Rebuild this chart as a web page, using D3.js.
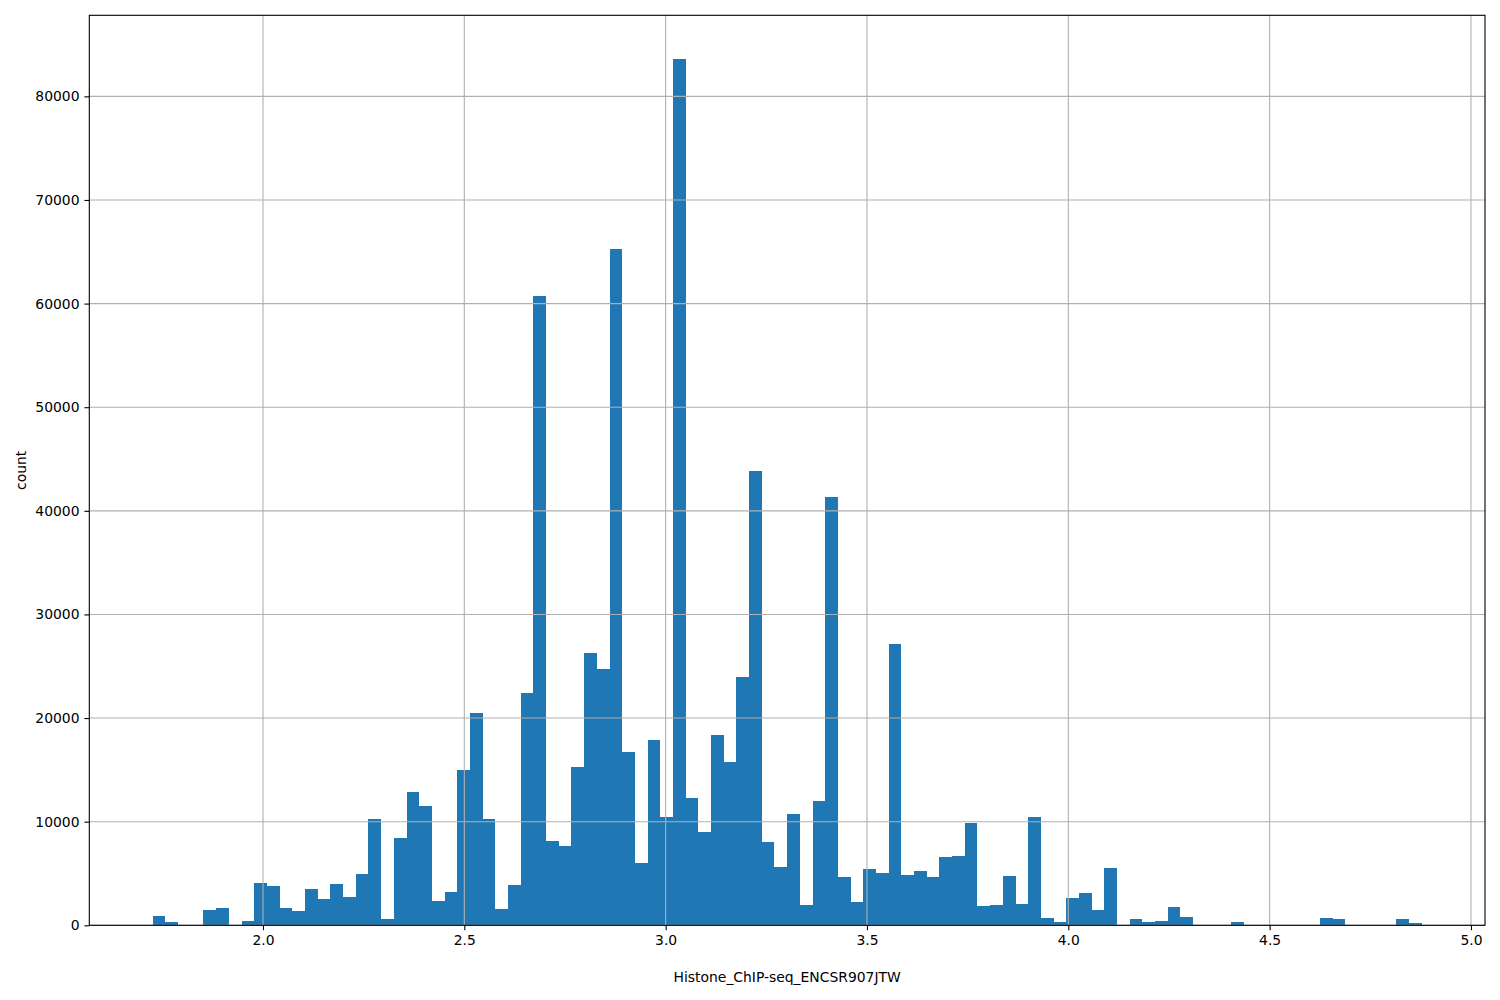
<!DOCTYPE html>
<html>
<head>
<meta charset="utf-8">
<script src="https://cdn.jsdelivr.net/npm/d3@7"></script>
<style>
  html, body { margin: 0; padding: 0; background: #fff; }
  svg { display: block; }
  text { font-family: "DejaVu Sans", sans-serif; }
</style>
</head>
<body>
<script>
// ---- data ----
const binMin = 1.7262;
const binMax = 4.8773;
const counts = [
  900, 330, 0, 0, 1480, 1670, 0, 410, 4080, 3790,
  1670, 1380, 3510, 2540, 3990, 2730, 4950, 10280, 620, 8430,
  12870, 11520, 2350, 3220, 15010, 20500, 10280, 1580, 3890, 22430,
  60740, 8140, 7650, 15280, 26280, 24740, 65280, 16730, 6020, 17890,
  10460, 83640, 12290, 9000, 18370, 15760, 23970, 43850, 8040, 5630,
  10750, 1960, 12000, 41340, 4660, 2250, 5430, 5050, 27150, 4860,
  5240, 4660, 6590, 6690, 9870, 1860, 1960, 4760, 2060, 10460,
  710, 330, 2640, 3120, 1480, 5530, 0, 610, 330, 420,
  1770, 810, 0, 0, 0, 330, 0, 0, 0, 0,
  0, 0, 710, 610, 0, 0, 0, 0, 610, 220
];
const xTicks = [2.0, 2.5, 3.0, 3.5, 4.0, 4.5, 5.0];
const yTicks = [0, 10000, 20000, 30000, 40000, 50000, 60000, 70000, 80000];
const xLabel = "Histone_ChIP-seq_ENCSR907JTW";
const yLabel = "count";

// ---- layout ----
const W = 1500, H = 1000;
const mLeft = 89.3, mRight = 1485, mTop = 15.3, mBottom = 925.3;

const nBins = counts.length;
const binW = (binMax - binMin) / nBins;
const bins = counts.map((c, i) => ({ x0: binMin + i * binW, x1: binMin + (i + 1) * binW, c }));

const span = binMax - binMin;
const x = d3.scaleLinear().domain([binMin - 0.05 * span, binMax + 0.05 * span]).range([mLeft, mRight]);
const yMax = d3.max(counts) * 1.05;
const y = d3.scaleLinear().domain([0, yMax]).range([mBottom, mTop]);

const svg = d3.select("body").append("svg").attr("width", W).attr("height", H);
svg.append("rect").attr("width", W).attr("height", H).attr("fill", "#fff");

// bars
svg.append("g").selectAll("rect").data(bins.filter(b => b.c > 0)).join("rect")
  .attr("x", d => x(d.x0))
  .attr("width", d => x(d.x1) - x(d.x0))
  .attr("y", d => y(d.c))
  .attr("height", d => y(0) - y(d.c))
  .attr("fill", "#1f77b4")
  .attr("shape-rendering", "crispEdges");

// grid (drawn above patches, as in matplotlib)
const grid = svg.append("g").attr("stroke", "#b0b0b0").attr("stroke-width", 1.1);
grid.selectAll("line.v").data(xTicks).join("line").attr("class", "v")
  .attr("x1", d => x(d)).attr("x2", d => x(d)).attr("y1", mTop).attr("y2", mBottom);
grid.selectAll("line.h").data(yTicks).join("line").attr("class", "h")
  .attr("x1", mLeft).attr("x2", mRight).attr("y1", d => y(d)).attr("y2", d => y(d));

// axes
const xAxis = d3.axisBottom(x).tickValues(xTicks).tickFormat(d3.format(".1f")).tickSize(4.9).tickPadding(4.9);
const yAxis = d3.axisLeft(y).tickValues(yTicks).tickFormat(d3.format("d")).tickSize(4.9).tickPadding(4.9);

const gx = svg.append("g").attr("transform", `translate(0,${mBottom})`).call(xAxis);
const gy = svg.append("g").attr("transform", `translate(${mLeft},0)`).call(yAxis);
[gx, gy].forEach(g => {
  g.select(".domain").remove();
  g.selectAll(".tick line").attr("stroke", "#000").attr("stroke-width", 1.1);
  g.selectAll(".tick text").attr("fill", "#000").style("font-size", "13.9px").style("font-family", "'DejaVu Sans', sans-serif");
});

// spines
svg.append("rect").attr("x", mLeft).attr("y", mTop).attr("width", mRight - mLeft).attr("height", mBottom - mTop)
  .attr("fill", "none").attr("stroke", "#000").attr("stroke-width", 1.1);

// labels
svg.append("text").attr("x", (mLeft + mRight) / 2).attr("y", 982)
  .attr("text-anchor", "middle").style("font-size", "13.9px").attr("fill", "#000").text(xLabel);
svg.append("text").attr("transform", `translate(26,${(mTop + mBottom) / 2}) rotate(-90)`)
  .attr("text-anchor", "middle").style("font-size", "13.9px").attr("fill", "#000").text(yLabel);
</script>
</body>
</html>
